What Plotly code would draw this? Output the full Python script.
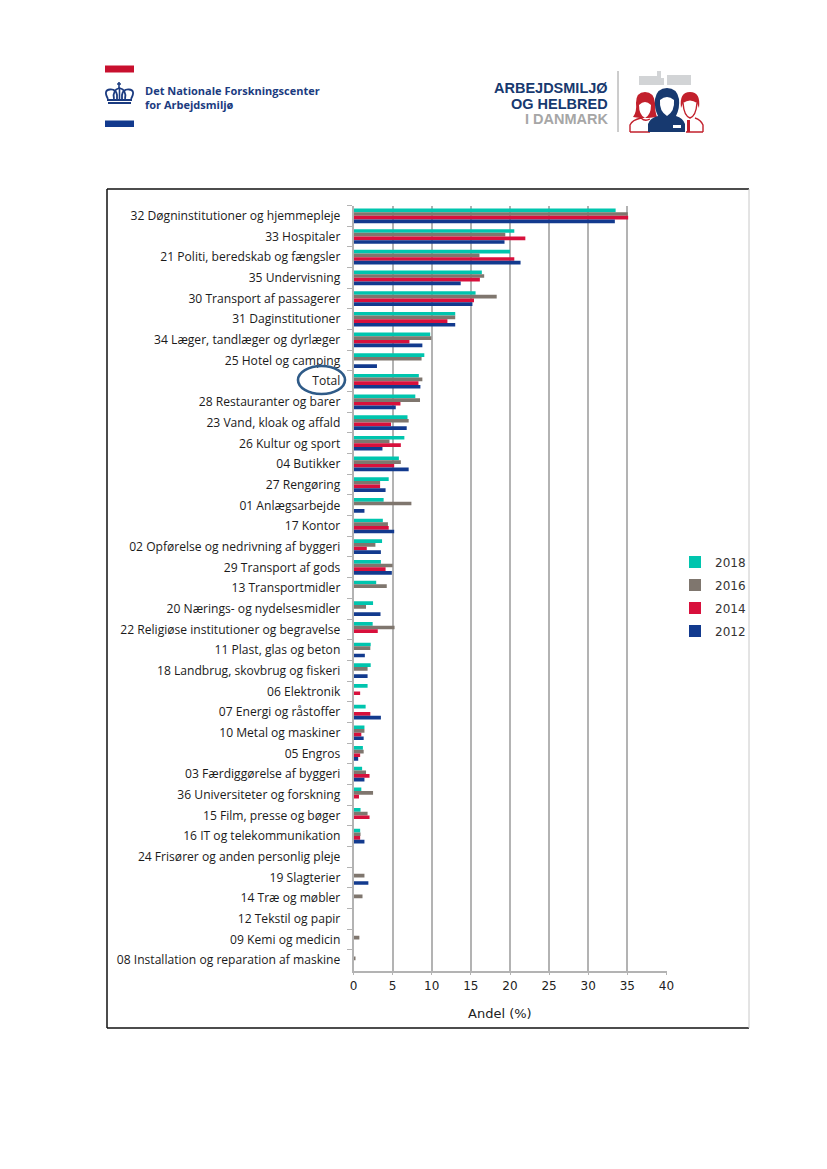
import re
import plotly.graph_objects as go

categories = ["32 Døgninstitutioner og hjemmepleje","33 Hospitaler","21 Politi, beredskab og fængsler","35 Undervisning",
"30 Transport af passagerer","31 Daginstitutioner","34 Læger, tandlæger og dyrlæger","25 Hotel og camping","Total",
"28 Restauranter og barer","23 Vand, kloak og affald","26 Kultur og sport","04 Butikker","27 Rengøring","01 Anlægsarbejde",
"17 Kontor","02 Opførelse og nedrivning af byggeri","29 Transport af gods","13 Transportmidler","20 Nærings- og nydelsesmidler",
"22 Religiøse institutioner og begravelse","11 Plast, glas og beton","18 Landbrug, skovbrug og fiskeri","06 Elektronik",
"07 Energi og råstoffer","10 Metal og maskiner","05 Engros","03 Færdiggørelse af byggeri","36 Universiteter og forskning",
"15 Film, presse og bøger","16 IT og telekommunikation","24 Frisører og anden personlig pleje","19 Slagterier","14 Træ og møbler",
"12 Tekstil og papir","09 Kemi og medicin","08 Installation og reparation af maskine"]

v2018 = [33.5,20.55,20.0,16.4,15.6,13.0,9.8,9.05,8.35,7.9,6.9,6.5,5.8,4.5,3.85,3.75,3.65,3.5,2.9,2.5,2.45,2.2,2.2,1.8,1.55,1.4,1.2,1.1,1.0,0.9,0.85,0,0,0,0,0,0]
v2016 = [35.05,19.4,16.1,16.7,18.3,13.0,9.95,8.7,8.8,8.5,7.05,4.6,6.05,3.4,7.4,4.4,2.8,5.0,4.25,1.6,5.25,2.15,1.8,0,0,1.4,1.3,1.6,2.5,1.8,0.9,0,1.4,1.15,0,0.75,0.2]
v2014 = [35.1,21.96,20.55,16.15,15.4,12.0,7.15,0,8.3,6.0,4.8,6.05,5.2,3.4,0,4.5,1.7,4.1,0,0,3.1,0,0,0.85,2.15,1.0,0.85,2.05,0.7,2.05,0.85,0,0,0,0,0,0]
v2012 = [33.4,19.3,21.35,13.7,15.2,13.0,8.8,3.0,8.55,5.4,6.8,3.7,7.05,4.1,1.4,5.2,3.5,4.9,0,3.45,0,1.45,1.8,0,3.5,1.3,0.6,1.4,0,0,1.4,0,1.9,0,0,0,0]

series_names = ["2018","2016","2014","2012"]
series_values = [v2018,v2016,v2014,v2012]
series_colors = ["#00c5ae","#7f766e","#d8103c","#123a8e"]
x_ticks = [0,5,10,15,20,25,30,35,40]

W, H = 827, 1169
def X(p): return p / W
def Y(p): return 1 - p / H
def path(s):
    return re.sub(r"(-?[\d.]+),(-?[\d.]+)", lambda m: f"{X(float(m[1])):.5f},{Y(float(m[2])):.5f}", s)

NAVY = "#17396f"; RED = "#c8102e"; GRID = "#b3b3b3"; DKRED = "#c2202c"; FACT = "#d2d4d6"
shapes = []
def line(x0, y0, x1, y1, color, width):
    shapes.append(dict(type="line", xref="paper", yref="paper", x0=X(x0), y0=Y(y0), x1=X(x1), y1=Y(y1), line=dict(color=color, width=width)))
def rect(x0, y0, x1, y1, fill):
    shapes.append(dict(type="rect", xref="paper", yref="paper", x0=X(x0), y0=Y(y0), x1=X(x1), y1=Y(y1), fillcolor=fill, line=dict(width=0)))
def p(d, stroke=None, fill=None, width=1.5):
    shapes.append(dict(type="path", xref="paper", yref="paper", path=path(d), fillcolor=fill or "rgba(0,0,0,0)",
                       line=dict(color=stroke or "rgba(0,0,0,0)", width=width if stroke else 0)))

# chart frame
line(107,189,749,189,"#111111",1.5); line(107,189,107,1028,"#111111",1.5); line(107,1028,749,1028,"#111111",1.5)
line(749,189,749,1028,"#c8c8c8",1)

# Total highlight ring
shapes.append(dict(type="circle", xref="paper", yref="paper", x0=X(298), x1=X(345), y0=Y(366), y1=Y(394), line=dict(color="#2f5b88", width=2.6)))

# left logo
rect(105,65.5,134,72.5,RED); rect(105,120.5,134,127,"#123a8e")
p("M108,99 Q103,90 110,89.5 Q116,89 117,95 L117,99", "#1b3b80", None, 1.8)
p("M131,99 Q136,90 129,89.5 Q123,89 122,95 L122,99", "#1b3b80", None, 1.8)
p("M114,99 Q112,90 119.5,88 Q127,90 125,99", "#1b3b80", None, 1.8)
line(119.5,89,119.5,99,"#1b3b80",1.6)
rect(107,99,132,101,"#1b3b80"); rect(108,102,131,104,"#1b3b80")
line(119,82,119,88,"#1b3b80",1.6); line(117,84,121,84,"#1b3b80",1.4)

# right logo
line(618,71,618,132,"#9a9a9a",1)
rect(639,76,657,85,FACT); rect(657,71,661,85,FACT); rect(661,78,664,85,FACT); rect(667,75,691,85,FACT)
# left woman: filled hair, pale face, outlined body
p("M633,117 Q637,112 636,103 Q636,92 645,92 Q654,92 655,103 Q655,112 657,117 L648,118 L640,118 Z", None, DKRED)
p("M639,105 Q645,99 651,105 Q651,115 645,118 Q639,115 639,105 Z", None, "#ffffff")
p("M630,132 L630,125 Q632,120 641,118 Q645,122 650,119 M630,132 L650,132", DKRED, None, 1.4)
# right man: hair cap, outlined face and body
p("M681,108 Q679,92 690,92 Q701,92 699,108 L697,103 Q690,98 683,103 Z", None, DKRED)
p("M683,103 Q684,116 690,118 Q696,116 697,103", DKRED, None, 1.4)
p("M703,132 L703,125 Q701,120 695,118 M686,132 L703,132", DKRED, None, 1.4)
rect(687,120,690,132,DKRED)
# middle figure
p("M648,132 L648,124 Q650,118 658,116 Q654,108 655,99 Q657,88 667,88 Q677,88 679,99 Q680,108 676,116 Q683,118 685,124 L685,132 Z", None, NAVY)
p("M660,100 Q667,94 674,100 Q675,111 667,116 Q659,111 660,100 Z", None, "#ffffff")
rect(673,125,681,128,"#ffffff")

annotations = []
def text(x, y, s, color, size, family, anchor="left", bold=True):
    annotations.append(dict(xref="paper", yref="paper", x=X(x), y=Y(y), xanchor=anchor, yanchor="middle", showarrow=False,
        text=f"<b>{s}</b>" if bold else s, font=dict(color=color, size=size, family=family), align=anchor))
text(143,97.5,"Det Nationale Forskningscenter<br>for Arbejdsmiljø","#1b3b80",11,"Open Sans")
text(610,88,"ARBEJDSMILJØ",NAVY,14.5,"Liberation Sans","right")
text(610,104,"OG HELBRED",NAVY,14.5,"Liberation Sans","right")
text(610,119,"I DANMARK","#a6a6a6",14.5,"Liberation Sans","right")
text(500,1013,"Andel (%)","#222222",13,"DejaVu Sans","center",bold=False)

fig = go.Figure()
for name, vals, col in zip(series_names, series_values, series_colors):
    fig.add_trace(go.Bar(y=categories, x=vals, name=name, orientation="h", marker=dict(color=col, line=dict(width=0)), legendgroup=name))

fig.update_layout(
    width=W, height=H, margin=dict(l=0, r=0, t=0, b=0), paper_bgcolor="white", plot_bgcolor="white",
    barmode="group", bargap=0.29, bargroupgap=0,
    font=dict(family="Open Sans", color="#222222"),
    shapes=shapes, annotations=annotations,
    legend=dict(x=X(675), y=Y(547.5), xanchor="left", yanchor="top", traceorder="grouped", tracegroupgap=4,
                font=dict(family="DejaVu Sans", size=12, color="#333333"), bgcolor="rgba(0,0,0,0)"),
    xaxis=dict(domain=[X(353.5), X(666.5)], range=[0,40], tickvals=x_ticks, ticktext=[str(t) for t in x_ticks], showgrid=True,
               gridcolor=GRID, gridwidth=1.5, zeroline=False, showline=True, linecolor=GRID, linewidth=1.5, ticks="outside", ticklen=3, tickcolor=GRID,
               tickfont=dict(family="DejaVu Sans", size=12, color="#222222"), automargin=False),
    yaxis=dict(domain=[Y(970.5), Y(205.5)], type="category", categoryorder="array", categoryarray=categories, autorange=False,
               range=[36.5, -0.5], tickson="boundaries", showgrid=False, zeroline=False, showline=True, linecolor=GRID, linewidth=1.5,
               ticks="outside", ticklen=5, tickcolor=GRID, tickfont=dict(family="Open Sans", size=12.1, color="#1a1a1a"),
               ticklabelstandoff=9, automargin=False),
)
fig.write_html("out.html", post_script="document.body.style.margin='0';", config=dict(displayModeBar=False))
